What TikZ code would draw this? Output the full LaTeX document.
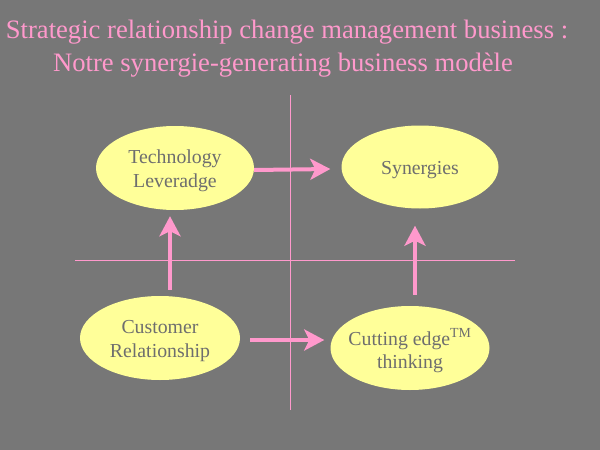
\documentclass[tikz,border=0pt]{standalone}
\usepackage{fontspec}
\setmainfont{Liberation Serif}
\usetikzlibrary{shapes.geometric,arrows.meta}
\definecolor{bg}{HTML}{777777}
\definecolor{pinkc}{HTML}{FF99CC}
\definecolor{yel}{HTML}{FFFF99}
\definecolor{txtg}{HTML}{6E6E6E}
\tikzset{
  oval/.style={ellipse, fill=yel, draw=none, inner sep=0pt, minimum width=158pt, minimum height=84pt},
  ovaltext/.style={text=txtg, align=center, inner sep=0pt, yshift=-3pt, font=\fontsize{19.8pt}{23.5pt}\selectfont},
  arr/.style={draw=pinkc, line width=4pt, -{Stealth[length=20pt,width=21pt,inset=5pt]}},
  axis/.style={draw=pinkc, line width=1pt},
  ttl/.style={text=pinkc, font=\fontsize{26.6pt}{32pt}\selectfont, inner sep=0pt, anchor=base}
}
\begin{document}
\begin{tikzpicture}[x=1pt,y=-1pt]
\fill[bg] (0,0) rectangle (600,450);
\useasboundingbox (0,0) rectangle (600,450);
\node[ttl] (t1) at (287,38) {Strategic relationship change management business :};
\node[ttl] (t2) at (283,71) {Notre synergie-generating business modèle};
\coordinate (vtop) at (290.5,95);
\coordinate (vbot) at (290.5,410);
\coordinate (hl) at (75,260.5);
\coordinate (hr) at (515,260.5);
\draw[axis] (vtop) -- (vbot);
\draw[axis] (hl) -- (hr);
\node[oval] (tech) at (175,168) {};
\node[ovaltext] (techtxt) at (tech) {Technology\\Leveradge};
\node[oval, minimum width=157pt, minimum height=83pt] (syn) at (420,167) {};
\node[ovaltext] (syntxt) at (syn) {Synergies};
\node[oval, minimum width=160pt] (cust) at (160,338) {};
\node[ovaltext] (custtxt) at (cust) {Customer\\Relationship};
\node[oval, minimum width=159pt] (cut) at (410,348) {};
\node[ovaltext] (cuttxt) at (cut) {Cutting edge\textsuperscript{TM}\\thinking};
\draw[arr] ([yshift=-2pt]tech.east) -- ([xshift=-11pt,yshift=-2pt]syn.west);
\draw[arr] ([xshift=10pt,yshift=6pt]cust.north) -- ([xshift=-5pt,yshift=-6pt]tech.south);
\draw[arr] ([xshift=5pt,yshift=11pt]cut.north) -- ([xshift=-5pt,yshift=-17pt]syn.south);
\draw[arr] ([xshift=10pt,yshift=-2pt]cust.east) -- ([xshift=-6pt,yshift=8pt]cut.west);
\end{tikzpicture}
\end{document}
